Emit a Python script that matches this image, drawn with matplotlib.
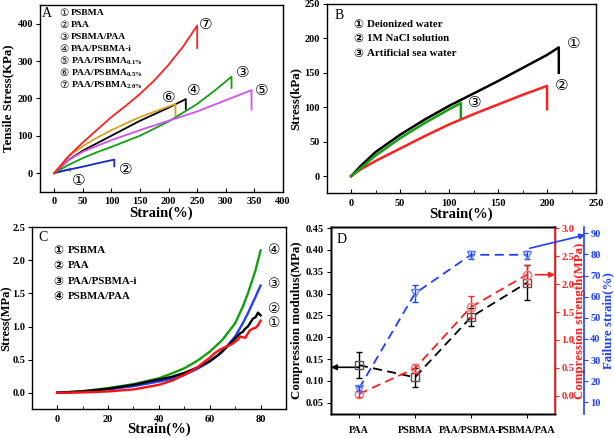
import matplotlib
matplotlib.use("Agg")
import matplotlib.pyplot as plt
from matplotlib.ticker import MultipleLocator, FormatStrFormatter

# ------------------------------------------------------------
# Data
# ------------------------------------------------------------

# Panel A: tensile curves (strain %, stress kPa), last point = break drop
A_PSBMA_X = [0, 10, 20, 28, 28]
A_PSBMA_Y = [0, 4, 8, 11, 6]
A_PAA_X = [0, 25, 50, 75, 105, 105]
A_PAA_Y = [0, 9, 17, 26, 36, 18]
A_SP_X = [0, 25, 50, 75, 100, 150, 200, 250, 280, 310, 310]
A_SP_Y = [0, 22, 40, 56, 70, 100, 138, 185, 220, 258, 228]
A_PSI_X = [0, 25, 50, 75, 100, 150, 200, 230, 230]
A_PSI_Y = [0, 35, 60, 80, 100, 140, 175, 198, 172]
A_01_X = [0, 25, 50, 75, 100, 150, 200, 250, 300, 345, 345]
A_01_Y = [0, 35, 57, 73, 88, 115, 140, 165, 195, 222, 170]
A_05_X = [0, 25, 50, 75, 100, 150, 212, 212]
A_05_Y = [0, 45, 72, 95, 115, 150, 185, 155]
A_20_X = [0, 25, 50, 75, 100, 125, 150, 175, 200, 225, 250, 250]
A_20_Y = [0, 45, 82, 116, 150, 180, 212, 248, 290, 338, 395, 335]

A_LEGEND = ["PSBMA", "PAA", "PSBMA/PAA", "PAA/PSBMA-i",
            "PAA/PSBMA$_{0.1\\%}$", "PAA/PSBMA$_{0.5\\%}$", "PAA/PSBMA$_{2.0\\%}$"]

# Panel B: different media
B_DI_X = [0, 10, 25, 50, 75, 100, 125, 150, 175, 200, 212, 212]
B_DI_Y = [0, 15, 35, 60, 82, 102, 120, 138, 157, 176, 187, 150]
B_NACL_X = [0, 10, 25, 50, 75, 100, 125, 150, 175, 200, 200]
B_NACL_Y = [0, 10, 22, 40, 58, 75, 90, 104, 118, 131, 97]
B_SEA_X = [0, 10, 25, 50, 75, 100, 112, 112]
B_SEA_Y = [0, 12, 30, 55, 77, 97, 106, 85]
B_LEGEND = ["Deionized water", "1M NaCl solution", "Artificial sea water"]

# Panel C: compression curves (strain %, stress MPa)
C_PSBMA_X = [0, 10, 20, 30, 40, 45, 50, 55, 58, 60, 62, 64, 66, 68, 70,
             71, 72, 73, 74, 75, 76, 77, 78, 79, 80]
C_PSBMA_Y = [0, 0.005, 0.02, 0.05, 0.12, 0.18, 0.27, 0.38, 0.47, 0.53, 0.6,
             0.65, 0.69, 0.72, 0.77, 0.8, 0.85, 0.84, 0.83, 0.9, 0.95, 0.97,
             0.98, 1.02, 1.09]
C_PAA_X = [0, 10, 20, 30, 40, 45, 50, 55, 60, 63, 65, 68, 70, 72, 73, 74,
           75, 76, 77, 78, 79, 79.5, 80]
C_PAA_Y = [0, 0.02, 0.06, 0.12, 0.2, 0.24, 0.3, 0.38, 0.48, 0.56, 0.63,
           0.74, 0.82, 0.9, 0.92, 0.97, 1.0, 1.06, 1.12, 1.14, 1.21, 1.19, 1.17]
C_PSI_X = [0, 10, 20, 30, 40, 45, 50, 55, 60, 65, 70, 73, 75, 78, 80]
C_PSI_Y = [0, 0.015, 0.05, 0.1, 0.17, 0.21, 0.27, 0.36, 0.47, 0.62, 0.85,
           1.05, 1.2, 1.45, 1.62]
C_SP_X = [0, 10, 20, 30, 40, 45, 50, 55, 60, 65, 70, 73, 75, 78, 80]
C_SP_Y = [0, 0.025, 0.07, 0.13, 0.22, 0.29, 0.37, 0.48, 0.62, 0.8, 1.05,
          1.3, 1.5, 1.85, 2.15]
C_LEGEND = ["PSBMA", "PAA", "PAA/PSBMA-i", "PSBMA/PAA"]

# Panel D: summary values
D_SAMPLES = ["PAA", "PSBMA", "PAA/PSBMA-i", "PSBMA/PAA"]
D_MODULUS = [0.136, 0.108, 0.246, 0.325]
D_MODULUS_ERR = [0.03, 0.022, 0.02, 0.04]
D_STRENGTH = [0.03, 0.49, 1.59, 2.17]
D_STRENGTH_ERR = [0.05, 0.08, 0.2, 0.17]
D_FAILURE = [16.5, 61.5, 79.8, 79.8]
D_FAILURE_ERR = [1.2, 4.0, 2.0, 2.0]

# ------------------------------------------------------------
# Style
# ------------------------------------------------------------

plt.rcParams["font.family"] = ["Liberation Serif", "DejaVu Sans"]
plt.rcParams["font.weight"] = "bold"
plt.rcParams["axes.labelweight"] = "bold"
plt.rcParams["mathtext.fontset"] = "custom"
plt.rcParams["mathtext.rm"] = "Liberation Serif:bold"
plt.rcParams["mathtext.bf"] = "Liberation Serif:bold"
plt.rcParams["mathtext.it"] = "Liberation Serif:bold"
plt.rcParams["axes.linewidth"] = 1.0

CIRCLED = ["\u2460", "\u2461", "\u2462", "\u2463", "\u2464", "\u2465", "\u2466"]
CIRC_FONT = ["DejaVu Sans"]

TICK_SIZE = 7.5
XLABEL_SIZE = 10.5
YLABEL_SIZE = 9.3

fig = plt.figure(figsize=(6.14, 4.38), dpi=100)


def style_axis(ax):
    ax.tick_params(axis="x", direction="in", labelsize=TICK_SIZE, length=3,
                   pad=4)
    ax.tick_params(axis="x", which="minor", direction="in", length=2)
    ax.tick_params(axis="y", direction="out", labelsize=TICK_SIZE, length=3,
                   pad=2)
    for lab in ax.get_xticklabels() + ax.get_yticklabels():
        lab.set_fontweight("bold")


# ------------------------------------------------------------
# Panel A
# ------------------------------------------------------------

axA = fig.add_axes([0.0651, 0.5623, 0.3958, 0.4263])
axA.plot(A_PSBMA_X, A_PSBMA_Y, color="#7a8a9c", lw=1.3)
axA.plot(A_PAA_X, A_PAA_Y, color="#1428c8", lw=1.3)
axA.plot(A_SP_X, A_SP_Y, color="#10a010", lw=1.3)
axA.plot(A_PSI_X, A_PSI_Y, color="black", lw=1.3)
axA.plot(A_01_X, A_01_Y, color="#d050f0", lw=1.3)
axA.plot(A_05_X, A_05_Y, color="#d8a020", lw=1.3)
axA.plot(A_20_X, A_20_Y, color="#ff2020", lw=1.3)
axA.set_xlim(-25, 400)
axA.set_ylim(-50, 450)
axA.xaxis.set_major_locator(MultipleLocator(50))
axA.yaxis.set_major_locator(MultipleLocator(100))
axA.set_xlabel("Strain(%)", fontsize=XLABEL_SIZE, labelpad=0)
axA.set_ylabel("Tensile Stress(KPa)", fontsize=YLABEL_SIZE, labelpad=2)
style_axis(axA)

a_marks = [(42, -20, 0), (125, 9, 1), (329, 269, 2), (243, 220, 3),
           (362, 220, 4), (200, 203, 5), (265, 398, 6)]
for x, y, i in a_marks:
    axA.text(x, y, CIRCLED[i], fontsize=11, family=CIRC_FONT,
             fontweight="normal", ha="center", va="center")

axA.text(0.008, 0.955, "A", transform=axA.transAxes, fontsize=10,
         fontweight="normal", va="center", ha="left")
for i, lab in enumerate(A_LEGEND):
    y = 0.955 - i * 0.0643
    axA.text(0.078, y, CIRCLED[i], transform=axA.transAxes, fontsize=7.5,
             family=CIRC_FONT, fontweight="normal", va="center", ha="left")
    axA.text(0.128, y, lab, transform=axA.transAxes, fontsize=6.8,
             fontweight="bold", va="center", ha="left")

# ------------------------------------------------------------
# Panel B
# ------------------------------------------------------------

axB = fig.add_axes([0.532, 0.5587, 0.4387, 0.4322])
axB.plot(B_DI_X, B_DI_Y, color="black", lw=1.8)
axB.plot(B_NACL_X, B_NACL_Y, color="#ff2020", lw=1.8)
axB.plot(B_SEA_X, B_SEA_Y, color="#10a010", lw=1.8)
axB.set_xlim(-25, 250)
axB.set_ylim(-25, 250)
axB.xaxis.set_major_locator(MultipleLocator(50))
axB.xaxis.set_minor_locator(MultipleLocator(25))
axB.yaxis.set_major_locator(MultipleLocator(50))
axB.set_xlabel("Strain(%)", fontsize=XLABEL_SIZE, labelpad=0)
axB.set_ylabel("Stress(kPa)", fontsize=YLABEL_SIZE, labelpad=2)
style_axis(axB)

for x, y, i in [(227, 193, 0), (215, 132, 1), (126, 107, 2)]:
    axB.text(x, y, CIRCLED[i], fontsize=11, family=CIRC_FONT,
             fontweight="normal", ha="center", va="center")

axB.text(0.03, 0.94, "B", transform=axB.transAxes, fontsize=10,
         fontweight="normal", va="center", ha="left")
for i, lab in enumerate(B_LEGEND):
    y = 0.894 - i * 0.0775
    axB.text(0.098, y, CIRCLED[i], transform=axB.transAxes, fontsize=8.5,
             family=CIRC_FONT, fontweight="bold", va="center", ha="left")
    axB.text(0.148, y, lab, transform=axB.transAxes, fontsize=7.8,
             fontweight="bold", va="center", ha="left")

# ------------------------------------------------------------
# Panel C
# ------------------------------------------------------------

axC = fig.add_axes([0.0516, 0.0655, 0.4142, 0.4155])
axC.plot(C_SP_X, C_SP_Y, color="#10a010", lw=1.7)
axC.plot(C_PSI_X, C_PSI_Y, color="#2040ff", lw=1.7)
axC.plot(C_PAA_X, C_PAA_Y, color="black", lw=1.7)
axC.plot(C_PSBMA_X, C_PSBMA_Y, color="#ff1010", lw=1.7)
axC.set_xlim(-10, 90)
axC.set_ylim(-0.25, 2.5)
axC.xaxis.set_major_locator(MultipleLocator(20))
axC.xaxis.set_minor_locator(MultipleLocator(10))
axC.yaxis.set_major_locator(MultipleLocator(0.5))
axC.set_xlabel("Strain(%)", fontsize=XLABEL_SIZE, labelpad=-1)
axC.set_ylabel("Stress(MPa)", fontsize=9, labelpad=0)
style_axis(axC)
axC.tick_params(axis="y", pad=1.5)

for x, y, i in [(85.5, 1.05, 0), (85.5, 1.27, 1), (85.5, 1.65, 2),
                (85.5, 2.16, 3)]:
    axC.text(x, y, CIRCLED[i], fontsize=10, family=CIRC_FONT,
             fontweight="normal", ha="center", va="center")

axC.text(0.025, 0.943, "C", transform=axC.transAxes, fontsize=10,
         fontweight="normal", va="center", ha="left")
for i, lab in enumerate(C_LEGEND):
    y = 0.875 - i * 0.085
    axC.text(0.084, y, CIRCLED[i], transform=axC.transAxes, fontsize=8.5,
             family=CIRC_FONT, fontweight="bold", va="center", ha="left")
    axC.text(0.14, y, lab, transform=axC.transAxes, fontsize=7.8,
             fontweight="bold", va="center", ha="left")

# ------------------------------------------------------------
# Panel D
# ------------------------------------------------------------

RED = "#ff2020"
BLUE = "#2040ff"
pos = list(range(len(D_SAMPLES)))

axD = fig.add_axes([0.539, 0.0559, 0.3648, 0.4251])
axD.errorbar(pos, D_MODULUS, yerr=D_MODULUS_ERR, color="black", ls="--",
             lw=1.3, dashes=(5, 3), marker="s", ms=6, mfc="none", mec="#555555",
             capsize=2.5, elinewidth=1.0, zorder=3)
axD.set_xlim(-0.5, 3.5)
axD.set_ylim(0.025, 0.452)
axD.yaxis.set_major_locator(MultipleLocator(0.05))
axD.yaxis.set_major_formatter(FormatStrFormatter("%.2f"))
axD.set_xticks(pos)
axD.set_xticklabels(D_SAMPLES)
axD.set_ylabel("Compression modulus(MPa)", fontsize=YLABEL_SIZE, labelpad=2)
axD.tick_params(axis="x", direction="out", labelsize=7.2, length=3, pad=6)
axD.tick_params(axis="y", direction="out", labelsize=TICK_SIZE, length=3,
                pad=2)
for lab in axD.get_xticklabels() + axD.get_yticklabels():
    lab.set_fontweight("bold")
axD.annotate("", xy=(-0.5, 0.131), xytext=(0.0, 0.131),
             arrowprops=dict(arrowstyle="-|>", color="black", lw=1.2,
                             mutation_scale=8, shrinkA=0, shrinkB=0))
axD.text(0.025, 0.937, "D", transform=axD.transAxes, fontsize=10,
         fontweight="normal", va="center", ha="left")

axR = axD.twinx()
axR.errorbar(pos, D_STRENGTH, yerr=D_STRENGTH_ERR, color=RED, ls="--",
             lw=1.3, dashes=(5, 3), marker="o", ms=6, mfc="none",
             mec="#ff7070", capsize=2.5, elinewidth=1.0, zorder=3)
axR.set_ylim(-0.32, 3.02)
axR.yaxis.set_major_locator(MultipleLocator(0.5))
axR.yaxis.set_major_formatter(FormatStrFormatter("%.1f"))
axR.spines["right"].set_color(RED)
axR.spines["right"].set_linewidth(1.2)
axR.tick_params(axis="y", colors=RED, direction="out", labelsize=TICK_SIZE,
                length=3, pad=1.5)
axR.set_ylabel("Compression strength(MPa)", fontsize=YLABEL_SIZE, color=RED,
               labelpad=0)
for lab in axR.get_yticklabels():
    lab.set_fontweight("bold")
axR.annotate("", xy=(3.5, 2.17), xytext=(3.15, 2.17),
             arrowprops=dict(arrowstyle="-|>", color=RED, lw=1.2,
                             mutation_scale=8, shrinkA=0, shrinkB=0))

axF = axD.twinx()
axF.spines["right"].set_position(("outward", 21))
axF.errorbar(pos, D_FAILURE, yerr=D_FAILURE_ERR, color=BLUE, ls="--",
             lw=1.3, dashes=(5, 3), marker="v", ms=6, mfc="none",
             mec="#6080ff", capsize=2.5, elinewidth=1.0, zorder=3)
axF.set_ylim(4.7, 92.8)
axF.yaxis.set_major_locator(MultipleLocator(10))
axF.spines["right"].set_color(BLUE)
axF.spines["right"].set_linewidth(1.2)
axF.tick_params(axis="y", colors=BLUE, direction="out", labelsize=TICK_SIZE,
                length=3, pad=1.5)
axF.set_ylabel("Failure strain(%)", fontsize=YLABEL_SIZE, color=BLUE,
               labelpad=1)
for lab in axF.get_yticklabels():
    lab.set_fontweight("bold")
axF.annotate("", xy=(4.04, 89.2), xytext=(3.05, 82.9),
             arrowprops=dict(arrowstyle="-|>", color=BLUE, lw=1.2,
                             mutation_scale=8, shrinkA=0, shrinkB=0),
             annotation_clip=False)

fig.savefig("out.png", dpi=100)
